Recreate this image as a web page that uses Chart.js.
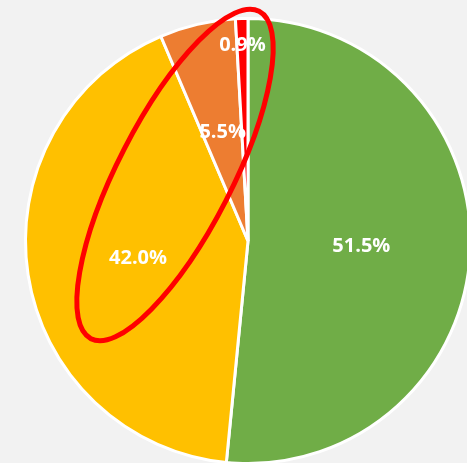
<!DOCTYPE html>
<html>
<head>
<meta charset="utf-8">
<script src="https://cdn.jsdelivr.net/npm/chart.js@4/dist/chart.umd.min.js"></script>
<style>
  html, body { margin: 0; padding: 0; background: #f2f2f2; }
  #wrap { width: 467px; height: 463px; overflow: hidden; position: relative; }
  #pie { position: absolute; left: 0; top: 0; }
</style>
</head>
<body>
<div id="wrap"><canvas id="pie" width="496" height="482"></canvas></div>
<script>
// values, clockwise from 12 o'clock
const categories = ['A', 'B', 'C', 'D']
const shares = [51.5, 42.0, 5.5, 0.9]
const sliceColors = ['#70ad47', '#ffc000', '#ed7d31', '#ff0000']

// how far out each percent label sits (fraction of the radius)
const labelRadius = [0.51, 0.5, 0.5, 0.88]

// white percent labels on the slices
const pctLabels = {
  id: 'pctLabels',
  afterDatasetsDraw(chart) {
    const ctx = chart.ctx
    const meta = chart.getDatasetMeta(0)
    ctx.save()
    ctx.fillStyle = '#ffffff'
    ctx.font = 'bold 20px "Open Sans", "Liberation Sans", sans-serif'
    ctx.textAlign = 'center'
    ctx.textBaseline = 'middle'
    meta.data.forEach((arc, i) => {
      let {x, y, startAngle, endAngle, outerRadius} = arc.getProps(['x', 'y', 'startAngle', 'endAngle', 'outerRadius'], true)
      let mid = (startAngle + endAngle) / 2
      let r = outerRadius * labelRadius[i]
      ctx.fillText(shares[i].toFixed(1) + '%', x + Math.cos(mid) * r, y + Math.sin(mid) * r)
    })
    ctx.restore()
  }
}

// the hand drawn red ring over the smaller slices
const redRing = {
  id: 'redRing',
  afterDraw(chart) {
    const ctx = chart.ctx
    ctx.save()
    ctx.strokeStyle = '#ff0000'
    ctx.lineWidth = 5
    ctx.beginPath()
    ctx.ellipse(175, 175, 184, 57, -62.8 * Math.PI / 180, 0, Math.PI * 2)
    ctx.stroke()
    ctx.restore()
  }
}

new Chart(document.getElementById('pie'), {
  type: 'pie',
  data: {
    labels: categories,
    datasets: [{
      data: shares,
      backgroundColor: sliceColors,
      borderColor: '#ffffff',
      borderWidth: 3
    }]
  },
  options: {
    responsive: false,
    animation: false,
    layout: {
      padding: {left: 24, right: 24, top: 17, bottom: 17}
    },
    plugins: {
      legend: { display: false },
      tooltip: { enabled: false },
      title: { display: false }
    }
  },
  plugins: [pctLabels, redRing]
})
</script>
</body>
</html>
